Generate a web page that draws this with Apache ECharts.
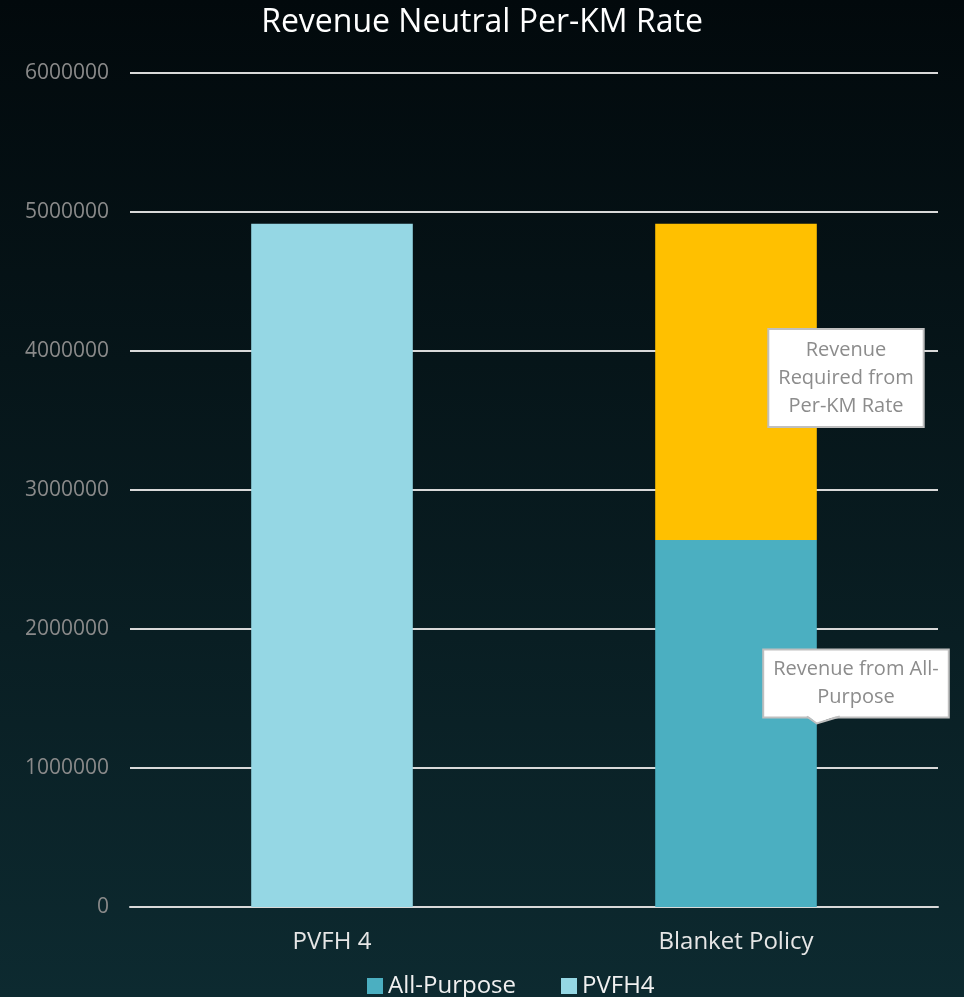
<!DOCTYPE html>
<html>
<head>
<meta charset="utf-8">
<script src="https://cdn.jsdelivr.net/npm/echarts@6/dist/echarts.min.js"></script>
<style>
  html, body { margin: 0; padding: 0; }
  #chart { width: 964px; height: 997px; }
</style>
</head>
<body>
<div id="chart"></div>
<script>
// data
var categories = ['PVFH 4', 'Blanket Policy']
var pvfh4 = [4915000, null]
var allPurpose = [null, 2640000]
var perKm = [null, 2275000]
var yTicks = { min: 0, max: 6000000, interval: 1000000 }

var myChart = echarts.init(document.getElementById('chart'))

var calloutStyle = {
  backgroundColor: '#ffffff',
  borderColor: '#bfbfbf',
  borderWidth: 2,
  color: '#8c8c8c',
  fontFamily: 'Open Sans',
  fontSize: 20,
  lineHeight: 28
}

var option = {
  backgroundColor: new echarts.graphic.LinearGradient(0, 0, 0, 1, [
    { offset: 0, color: '#02090c' },
    { offset: 1, color: '#0d2a30' }
  ]),
  title: {
    text: 'Revenue Neutral Per-KM Rate',
    left: 'center',
    top: 2,
    textStyle: { color: '#ffffff', fontFamily: 'Open Sans', fontSize: 32, fontWeight: 'normal' }
  },
  legend: {
    data: ['All-Purpose', 'PVFH4'],
    left: 362,
    top: 969,
    icon: 'rect',
    itemWidth: 16,
    itemHeight: 16,
    itemGap: 45,
    textStyle: { color: '#f0f0f0', fontFamily: 'Open Sans', fontSize: 24 }
  },
  grid: { left: 130, right: 26, top: 73, bottom: 90 },
  xAxis: {
    type: 'category',
    data: categories,
    axisLine: { lineStyle: { color: '#d9d9d9', width: 2 } },
    axisTick: { show: false },
    axisLabel: { color: '#e6e6e6', fontFamily: 'Open Sans', fontSize: 24, margin: 23 }
  },
  yAxis: {
    type: 'value',
    min: yTicks.min,
    max: yTicks.max,
    interval: yTicks.interval,
    axisLine: { show: false },
    axisTick: { show: false },
    splitLine: { lineStyle: { color: '#d9d9d9', width: 2 } },
    axisLabel: {
      color: '#8a8a8a', fontFamily: 'Open Sans', fontSize: 21, margin: 21,
      formatter: function (v) { return String(v) }
    }
  },
  series: [
    {
      name: 'All-Purpose',
      type: 'bar',
      stack: 'total',
      barWidth: '40%',
      itemStyle: { color: '#4bafc1' },
      data: allPurpose,
      label: Object.assign({
        show: true,
        position: 'inside',
        offset: [120, -40],
        padding: [5, 9, 5, 9],
        formatter: 'Revenue from All-\nPurpose'
      }, calloutStyle)
    },
    {
      name: 'Revenue Required from Per-KM Rate',
      type: 'bar',
      stack: 'total',
      barWidth: '40%',
      itemStyle: { color: '#ffc000' },
      data: perKm,
      label: Object.assign({
        show: true,
        position: 'inside',
        offset: [110, -4],
        padding: [6, 9, 6, 9],
        formatter: 'Revenue\nRequired from\nPer-KM Rate'
      }, calloutStyle)
    },
    {
      name: 'PVFH4',
      type: 'bar',
      stack: 'total',
      barWidth: '40%',
      itemStyle: { color: '#95d7e4' },
      data: pvfh4
    }
  ]
}

myChart.setOption(option)

// little pointer under the All-Purpose callout, aimed at the bar's right edge
var mid = myChart.convertToPixel({ seriesIndex: 0 }, [1, allPurpose[1] / 2])
var left = myChart.convertToPixel({ seriesIndex: 0 }, [0, 0])
var halfBar = (mid[0] - left[0]) * 0.2
var tipX = mid[0] + halfBar
var tipY = mid[1]
var boxBottom = tipY - 7
myChart.setOption({
  graphic: [
    {
      type: 'polygon', z: 100, silent: true,
      shape: { points: [[tipX - 10, boxBottom - 2], [tipX + 23, boxBottom - 2], [tipX, tipY]] },
      style: { fill: '#ffffff', stroke: null }
    },
    {
      type: 'polyline', z: 101, silent: true,
      shape: { points: [[tipX - 10, boxBottom], [tipX, tipY], [tipX + 23, boxBottom]] },
      style: { stroke: '#bfbfbf', lineWidth: 2, fill: null }
    }
  ]
})
</script>
</body>
</html>
